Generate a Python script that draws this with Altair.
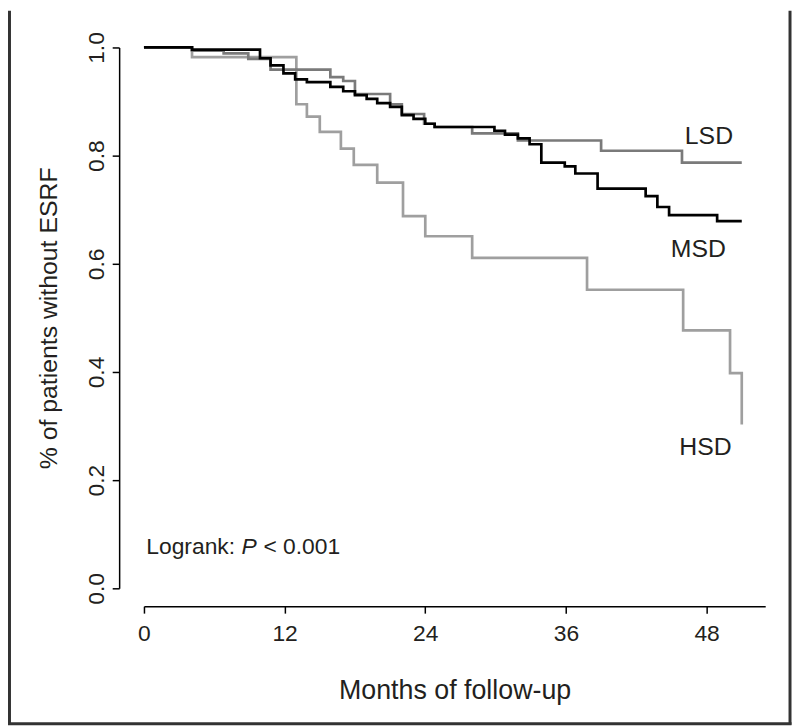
import altair as alt
import pandas as pd

# Kaplan-Meier step data (months, proportion without ESRF)
msd_time = [0, 4.1, 9.9, 10.8, 11.9, 12.9, 13.9, 15.9, 17.0, 18.0, 19.0, 19.9, 21.0, 22.0, 23.0,
            24.0, 24.8, 29.9, 30.8, 31.9, 32.9, 33.9, 35.9, 36.8, 38.7, 42.8, 43.8, 44.8, 48.9, 51.0]
msd_surv = [1.0, 0.996, 0.980, 0.967, 0.952, 0.941, 0.936, 0.927, 0.919, 0.912, 0.905, 0.897, 0.890, 0.875, 0.868,
            0.859, 0.853, 0.846, 0.839, 0.832, 0.821, 0.787, 0.780, 0.767, 0.739, 0.725, 0.705, 0.690, 0.679, 0.679]

lsd_time = [0, 4.1, 6.8, 8.9, 10.8, 15.9, 17.0, 18.0, 21.0, 22.0, 23.9, 24.8, 28.0, 31.9, 39.0, 45.9, 51.0]
lsd_surv = [1.0, 0.994, 0.989, 0.979, 0.959, 0.945, 0.938, 0.914, 0.895, 0.877, 0.859, 0.853, 0.841, 0.828,
            0.809, 0.787, 0.787]

hsd_time = [0, 4.1, 13.0, 13.9, 15.0, 16.8, 17.9, 19.9, 22.1, 24.0, 28.0, 37.8, 46.0, 50.0, 51.0]
hsd_surv = [1.0, 0.982, 0.895, 0.872, 0.844, 0.813, 0.783, 0.750, 0.688, 0.651, 0.611, 0.552, 0.477, 0.398, 0.303]

groups = ["HSD", "LSD", "MSD"]
group_colors = ["#9f9f9f", "#7a7a7a", "#000000"]

x_ticks = [0, 12, 24, 36, 48]
y_ticks = [0.0, 0.2, 0.4, 0.6, 0.8, 1.0]

label_text = ["LSD", "MSD", "HSD"]
label_x = [48.2, 47.3, 47.9]
label_y = [0.837, 0.628, 0.262]

logrank_parts = ["Logrank:", "P", "< 0.001"]

rows = []
for g, ts, ss in (("HSD", hsd_time, hsd_surv), ("LSD", lsd_time, lsd_surv), ("MSD", msd_time, msd_surv)):
    for t, s in zip(ts, ss):
        rows.append({"group": g, "t": t, "s": s})
df = pd.DataFrame(rows)

TICK_FONT = "Liberation Sans Narrow, Arial Narrow, Liberation Sans, sans-serif"
TEXT_FONT = "Liberation Sans, Arial, sans-serif"
INK = "#231f20"

xscale = alt.Scale(domain=[0, 53], nice=False, zero=False)
yscale = alt.Scale(domain=[0, 1], nice=False, zero=False)

x_axis = alt.Axis(values=x_ticks, title="Months of follow-up", offset=18, grid=False, labelFlush=False,
                  tickSize=7, tickWidth=1.5, domainWidth=1.5, domainColor="black", tickColor="black",
                  labelFont=TICK_FONT, labelFontSize=23, labelColor=INK, labelPadding=10,
                  titleFont=TICK_FONT, titleFontSize=27, titleFontWeight="normal", titleColor=INK,
                  titlePadding=32)
y_axis = alt.Axis(values=y_ticks, format=".1f", title="% of patients without ESRF", offset=25, grid=False,
                  labelFlush=False,
                  tickSize=7, tickWidth=1.5, domainWidth=1.5, domainColor="black", tickColor="black",
                  labelFont=TICK_FONT, labelFontSize=23, labelColor=INK, labelAngle=270,
                  labelAlign="center", labelBaseline="bottom", labelPadding=4,
                  titleFont=TICK_FONT, titleFontSize=25, titleFontWeight="normal", titleColor=INK,
                  titlePadding=24)

X = alt.X("t:Q", scale=xscale, axis=x_axis)
Y = alt.Y("s:Q", scale=yscale, axis=y_axis)

layers = []
for i, g in enumerate(groups):
    line = alt.Chart(df).transform_filter(alt.datum.group == g).mark_line(
        interpolate="step-after", strokeWidth=2.7, color=group_colors[i]
    ).encode(x=X, y=Y, order="t:Q")
    layers.append(line)

labels_df = pd.DataFrame({"label": label_text, "t": label_x, "s": label_y})
labels = alt.Chart(labels_df).mark_text(font=TEXT_FONT, fontSize=25, color=INK, align="center",
                                        baseline="middle").encode(x=X, y=Y, text="label:N")
layers.append(labels)

lr_df = pd.DataFrame({"t": [0.2], "s": [0.077]})
dxs = [0, 96, 118]
for part, dx in zip(logrank_parts, dxs):
    txt = alt.Chart(lr_df).mark_text(font=TEXT_FONT, fontSize=23, color=INK, align="left", baseline="middle",
                                     dx=dx, fontStyle="italic" if part == "P" else "normal",
                                     text=part).encode(x=X, y=Y)
    layers.append(txt)

one = pd.DataFrame({"k": [0]})
frame_style = dict(color="#333333", strokeWidth=3)
left = alt.Chart(one).mark_rule(**frame_style).encode(
    x=alt.value(-135.5), y=alt.value(-37), y2=alt.value(682.5))
right = alt.Chart(one).mark_rule(**frame_style).encode(
    x=alt.value(651), y=alt.value(-37), y2=alt.value(682.5))
bottom = alt.Chart(one).mark_rule(**frame_style).encode(
    x=alt.value(-137), x2=alt.value(652.5), y=alt.value(681.5))
layers += [left, right, bottom]

chart = alt.layer(*layers).properties(
    width=626, height=545,
    autosize=alt.AutoSizeParams(type="none"),
    padding={"left": 137, "top": 37, "right": 27, "bottom": 140},
).configure_view(strokeWidth=0)

chart.save("out.html", embed_options={"renderer": "svg", "actions": False})
